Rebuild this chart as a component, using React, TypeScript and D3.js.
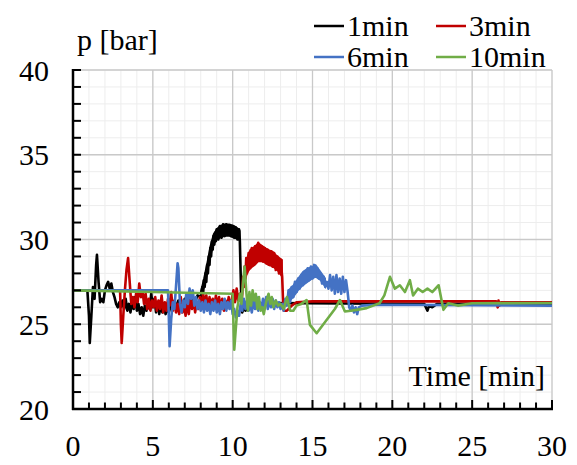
import React from "react";
import * as d3 from "d3";

// ---- data (time [min], pressure [bar]) ----
const xTicks = [0, 5, 10, 15, 20, 25, 30];
const yTicks = [20, 25, 30, 35, 40];
const legendLabels = ["1min", "3min", "6min", "10min"];

const series1min: [number, number][] = [
  [0, 27], [0.9, 27], [1.0, 25.5], [1.05, 23.9], [1.15, 25.5], [1.25, 27.2], [1.35, 26.5], [1.45, 28.5], [1.5, 29.1],
  [1.6, 27.5], [1.7, 26.3], [1.8, 26.5], [1.9, 26.3], [2.0, 27.0], [2.1, 27.3], [2.2, 27.5], [2.3, 27.1], [2.4, 27.4],
  [2.5, 26.9], [2.6, 26.6], [2.7, 26.2], [2.8, 26.0], [2.9, 26.3], [3.0, 26.0], [3.1, 26.4], [3.2, 25.9], [3.3, 26.5],
  [3.4, 25.8], [3.5, 26.2], [3.6, 25.7], [3.7, 26.3], [3.8, 25.9], [3.9, 26.6], [4.0, 25.8], [4.1, 26.2], [4.2, 25.6],
  [4.3, 26.0], [4.4, 25.5], [4.5, 26.1], [4.6, 25.8], [4.7, 26.4], [4.8, 25.9], [4.9, 26.8], [5.0, 26.0], [5.1, 26.5],
  [5.2, 25.7], [5.3, 26.3], [5.4, 25.6], [5.5, 26.1], [5.6, 25.7], [5.7, 26.0], [5.8, 25.6], [5.9, 25.9], [6.0, 25.7],
  [6.2, 26.3], [6.4, 25.9], [6.6, 26.4], [6.8, 26.0], [7.0, 26.5], [7.2, 26.1], [7.4, 26.6], [7.6, 26.2], [7.8, 26.7],
  [8.0, 26.6], [8.1, 27.2], [8.15, 26.8], [8.2, 27.6], [8.25, 27.2], [8.3, 28.0], [8.35, 27.5], [8.4, 28.5], [8.45, 28.0],
  [8.5, 29.0], [8.55, 28.5], [8.6, 29.5], [8.65, 29.0], [8.7, 29.9], [8.75, 29.4], [8.8, 30.2], [8.85, 29.7], [8.9, 30.4],
  [8.95, 29.9], [9.0, 30.6], [9.1, 30.0], [9.2, 30.8], [9.3, 30.1], [9.4, 30.9], [9.5, 30.2], [9.6, 30.9], [9.7, 30.3],
  [9.8, 30.8], [9.9, 30.2], [10.0, 30.8], [10.1, 30.1], [10.2, 30.7], [10.3, 30.0], [10.4, 30.6], [10.45, 29.9],
  [10.5, 28.0], [10.55, 26.2], [10.6, 25.7], [10.7, 26.0], [10.8, 25.8], [11.0, 26.1], [11.5, 26.2], [12.0, 26.25],
  [22.0, 26.2], [22.2, 25.8], [22.3, 26.1], [22.5, 26.0], [22.8, 26.2], [30, 26.2],
];
// oscillation envelope (time, low, high)
const band1min: [number, number, number][] = [
  [8.0, 26.6, 26.9], [8.2, 27.2, 27.7], [8.4, 28.0, 28.6], [8.6, 29.0, 29.6], [8.8, 29.7, 30.3], [9.0, 30.0, 30.6],
  [9.2, 30.1, 30.8], [9.5, 30.2, 30.9], [9.8, 30.2, 30.9], [10.1, 30.1, 30.8], [10.4, 30.0, 30.6], [10.45, 29.9, 30.5],
];

const series3min: [number, number][] = [
  [0, 27], [2.95, 27], [3.0, 25], [3.05, 23.9], [3.15, 25.5], [3.25, 27.0], [3.35, 28.2], [3.45, 28.9], [3.55, 27.5],
  [3.65, 26.2], [3.75, 26.6], [3.85, 26.0], [3.95, 26.8], [4.05, 26.3], [4.15, 27.4], [4.25, 26.6], [4.35, 27.0],
  [4.45, 26.2], [4.55, 26.8], [4.65, 25.9], [4.75, 26.5], [4.85, 25.8], [4.95, 26.4], [5.05, 26.0], [5.15, 26.6],
  [5.25, 25.8], [5.35, 26.4], [5.45, 25.9], [5.55, 26.7], [5.65, 25.7], [5.75, 26.3], [5.85, 25.8], [5.95, 26.5],
  [6.05, 26.1], [6.15, 26.9], [6.25, 25.8], [6.35, 26.4], [6.45, 25.7], [6.55, 26.2], [6.65, 25.6], [6.75, 26.6],
  [6.85, 25.7], [6.95, 26.1], [7.05, 25.5], [7.15, 26.3], [7.25, 25.6], [7.35, 26.5], [7.45, 25.9], [7.55, 26.4],
  [7.65, 25.7], [7.75, 26.3], [7.85, 25.9], [7.95, 26.6], [8.05, 26.0], [8.15, 26.8], [8.25, 26.2], [8.35, 26.7],
  [8.45, 26.0], [8.55, 26.6], [8.65, 26.1], [8.75, 26.5], [8.85, 26.0], [8.95, 26.7], [9.05, 26.1], [9.15, 26.6],
  [9.25, 25.9], [9.35, 26.5], [9.45, 25.8], [9.55, 26.4], [9.65, 26.0], [9.75, 26.6], [9.85, 26.1], [9.95, 26.5],
  [10.05, 27.0], [10.15, 26.3], [10.25, 27.1], [10.35, 26.4], [10.45, 26.8], [10.55, 26.3], [10.6, 26.8], [10.65, 27.8],
  [10.7, 27.2], [10.75, 28.4], [10.8, 27.7], [10.85, 28.9], [10.9, 28.0], [11.0, 29.2], [11.1, 28.3], [11.2, 29.5],
  [11.3, 28.5], [11.4, 29.6], [11.5, 28.7], [11.6, 29.8], [11.7, 28.8], [11.8, 29.6], [11.9, 28.7], [12.0, 29.5],
  [12.1, 28.6], [12.2, 29.4], [12.3, 28.5], [12.4, 29.3], [12.5, 28.4], [12.6, 29.2], [12.7, 28.2], [12.8, 29.0],
  [12.9, 28.0], [13.0, 28.8], [13.1, 27.8], [13.15, 26.5], [13.2, 25.8], [13.4, 25.8], [13.7, 26.1], [14.0, 26.3],
  [15, 26.35], [26.5, 26.35], [26.6, 26.0], [26.65, 26.4], [26.7, 26.1], [26.8, 26.3], [30, 26.3],
];
const band3min: [number, number, number][] = [
  [10.7, 27.2, 27.8], [10.9, 28.0, 28.9], [11.1, 28.3, 29.4], [11.4, 28.5, 29.6], [11.6, 28.7, 29.8], [11.9, 28.7, 29.6],
  [12.2, 28.5, 29.4], [12.5, 28.4, 29.3], [12.8, 28.2, 29.0], [13.1, 27.8, 28.8],
];

const series6min: [number, number][] = [
  [0, 27], [5.95, 27], [6.0, 25.5], [6.05, 23.7], [6.15, 25.3], [6.25, 26.3], [6.35, 25.9], [6.45, 27.2], [6.55, 28.6],
  [6.6, 28.3], [6.7, 26.2], [6.8, 25.7], [6.9, 26.4], [7.0, 26.0], [7.1, 26.8], [7.2, 26.2], [7.3, 27.1], [7.4, 26.5],
  [7.5, 27.0], [7.6, 26.1], [7.7, 26.6], [7.8, 25.9], [7.9, 26.4], [8.0, 25.8], [8.1, 26.3], [8.2, 25.7], [8.3, 26.4],
  [8.4, 25.8], [8.5, 26.2], [8.6, 25.6], [8.7, 26.3], [8.8, 25.8], [8.9, 26.4], [9.0, 25.7], [9.1, 26.2], [9.2, 25.6],
  [9.3, 26.3], [9.4, 25.9], [9.5, 26.5], [9.6, 25.8], [9.7, 26.3], [9.8, 25.9], [9.9, 26.4], [10.0, 25.6], [10.1, 25.9],
  [10.2, 25.4], [10.3, 25.8], [10.4, 25.5], [10.5, 26.2], [10.6, 25.8], [10.7, 26.5], [10.8, 25.9], [10.9, 26.4],
  [11.0, 25.8], [11.1, 26.2], [11.2, 25.7], [11.3, 26.4], [11.4, 25.9], [11.5, 26.6], [11.6, 25.8], [11.7, 26.3],
  [11.8, 25.9], [11.9, 26.5], [12.0, 26.0], [12.1, 26.6], [12.2, 25.9], [12.3, 26.4], [12.4, 26.0], [12.5, 26.5],
  [12.6, 25.9], [12.7, 26.4], [12.8, 26.0], [12.9, 26.3], [13.0, 25.9], [13.1, 26.2], [13.2, 25.8], [13.3, 26.5],
  [13.4, 26.1], [13.5, 27.0], [13.6, 26.3], [13.7, 27.2], [13.8, 26.6], [13.9, 27.5], [14.0, 26.9], [14.1, 27.7],
  [14.2, 27.1], [14.3, 27.9], [14.4, 27.3], [14.5, 28.1], [14.6, 27.5], [14.7, 28.3], [14.8, 27.6], [14.9, 28.4],
  [15.0, 27.7], [15.1, 28.5], [15.2, 27.8], [15.3, 28.3], [15.4, 27.7], [15.5, 28.0], [15.6, 27.4], [15.7, 27.8],
  [15.8, 27.2], [15.9, 27.5], [16.0, 27.1], [16.1, 27.9], [16.2, 27.0], [16.3, 27.8], [16.4, 26.8], [16.5, 27.9],
  [16.6, 26.9], [16.7, 27.7], [16.8, 26.8], [16.9, 27.8], [17.0, 26.9], [17.1, 27.6], [17.2, 26.9], [17.3, 26.0],
  [17.4, 25.8], [17.5, 26.1], [17.6, 25.7], [17.7, 26.0], [17.8, 25.6], [17.9, 26.0], [18.1, 26.1], [19, 26.15],
  [30, 26.1],
];
const band6min: [number, number, number][] = [
  [13.5, 26.3, 27.0], [13.8, 26.6, 27.3], [14.1, 27.0, 27.7], [14.4, 27.3, 28.1], [14.7, 27.5, 28.3], [15.0, 27.7, 28.4],
  [15.2, 27.8, 28.5], [15.5, 27.6, 28.1], [15.8, 27.2, 27.7],
];

const series10min: [number, number][] = [
  [0, 27.0], [5, 26.9], [10, 26.8], [10.05, 25.0], [10.1, 23.5], [10.2, 24.8], [10.3, 26.0], [10.45, 26.8], [10.55, 26.2],
  [10.65, 27.5], [10.75, 28.4], [10.85, 27.0], [10.95, 25.8], [11.05, 26.9], [11.15, 26.1], [11.25, 27.0], [11.35, 26.4],
  [11.45, 26.8], [11.55, 25.9], [11.65, 26.6], [11.75, 25.8], [11.85, 26.0], [11.95, 25.6], [12.05, 26.1], [12.15, 26.5],
  [12.25, 26.8], [12.35, 26.2], [12.45, 26.6], [12.55, 26.0], [12.7, 26.4], [12.85, 26.1], [13.0, 26.2], [13.2, 25.9],
  [13.4, 26.6], [13.6, 25.8], [13.8, 25.8], [14.0, 26.1], [14.3, 26.2], [14.63, 26.43], [14.84, 24.96], [15.26, 24.47],
  [15.6, 24.9], [16.0, 25.4], [16.4, 25.9], [16.72, 26.43], [17.03, 25.75], [17.4, 25.8], [17.76, 25.85], [18.39, 25.95],
  [18.8, 26.1], [19.2, 26.24], [19.5, 26.7], [19.85, 27.8], [20.16, 27.1], [20.47, 27.3], [20.79, 26.9], [21.1, 27.6],
  [21.3, 26.7], [21.6, 27.1], [21.9, 26.9], [22.2, 27.1], [22.5, 26.9], [22.9, 27.3], [23.2, 25.85], [23.5, 26.24],
  [24.1, 26.1], [25, 26.24], [30, 26.25],
];

const allSeries = [series1min, series3min, series6min, series10min];
const allBands = [band1min, band3min, band6min, [] as [number, number, number][]];
const colors = ["#000000", "#C00000", "#4472C4", "#70AD47"];

const W = 577;
const H = 465;
const FONT = "Liberation Serif";

export default function App() {
  const x = d3.scaleLinear().domain([0, 30]).range([73, 552]);
  const y = d3.scaleLinear().domain([20, 40]).range([409, 70]);
  const line = d3
    .line<[number, number]>()
    .x((d) => x(d[0]))
    .y((d) => y(d[1]));
  const area = d3
    .area<[number, number, number]>()
    .x((d) => x(d[0]))
    .y0((d) => y(d[1]))
    .y1((d) => y(d[2]));

  const minorX = d3.range(0, 31, 1);
  const minorY = d3.range(20, 41, 1);
  const txt = { fontFamily: FONT, fontSize: 30 } as React.CSSProperties;

  return (
    <svg
      width={W}
      height={H}
      style={{ position: "absolute", left: 0, top: 0, background: "#fff" }}
    >
      {/* minor grid */}
      {minorX.map((t) => (
        <line key={"mx" + t} x1={x(t)} x2={x(t)} y1={y(40)} y2={y(20)} stroke="#ededed" strokeWidth={1} />
      ))}
      {minorY.map((p) => (
        <line key={"my" + p} x1={x(0)} x2={x(30)} y1={y(p)} y2={y(p)} stroke="#ededed" strokeWidth={1} />
      ))}
      {/* major grid */}
      {xTicks.map((t) => (
        <line key={"gx" + t} x1={x(t)} x2={x(t)} y1={y(40)} y2={y(20)} stroke="#c9c9c9" strokeWidth={1.3} />
      ))}
      {yTicks.map((p) => (
        <line key={"gy" + p} x1={x(0)} x2={x(30)} y1={y(p)} y2={y(p)} stroke="#c9c9c9" strokeWidth={1.3} />
      ))}

      {/* series */}
      {allSeries.map((s, i) => (
        <g key={"s" + i}>
          {allBands[i].length > 0 && (
            <path d={area(allBands[i]) || ""} fill={colors[i]} stroke={colors[i]} strokeWidth={1.5} />
          )}
          <path
            d={line(s) || ""}
            fill="none"
            stroke={colors[i]}
            strokeWidth={2.6}
            strokeLinejoin="round"
          />
        </g>
      ))}

      {/* axes */}
      <line x1={x(0)} x2={x(0)} y1={y(40) - 1} y2={y(20) + 1} stroke="#000" strokeWidth={2.5} />
      <line x1={x(0) - 1} x2={x(30) + 1} y1={y(20)} y2={y(20)} stroke="#000" strokeWidth={2.5} />
      {minorY.map((p) => (
        <line key={"ty" + p} x1={x(0)} x2={x(0) + 8} y1={y(p)} y2={y(p)} stroke="#000" strokeWidth={2} />
      ))}
      {minorX.map((t) => (
        <line
          key={"tx" + t}
          x1={x(t)}
          x2={x(t)}
          y1={y(20)}
          y2={y(20) - (t % 5 === 0 ? 9 : 6.5)}
          stroke="#000"
          strokeWidth={2}
        />
      ))}

      {/* tick labels */}
      {yTicks.map((p) => (
        <text key={"ly" + p} x={49} y={y(p)} dy="0.35em" textAnchor="end" style={txt} fill="#000">
          {p}
        </text>
      ))}
      {xTicks.map((t) => (
        <text key={"lx" + t} x={x(t)} y={456} textAnchor="middle" style={txt} fill="#000">
          {t}
        </text>
      ))}

      {/* axis titles */}
      <text x={77} y={50} style={txt} fill="#000">p [bar]</text>
      <text x={545} y={386} textAnchor="end" style={txt} fill="#000">Time [min]</text>

      {/* legend */}
      {legendLabels.map((lab, i) => {
        const col = i % 2;
        const row = Math.floor(i / 2);
        const lx = col === 0 ? 314 : 436;
        const ly = row === 0 ? 26 : 57;
        return (
          <g key={"lg" + i}>
            <line x1={lx} x2={lx + 30} y1={ly} y2={ly} stroke={colors[i]} strokeWidth={2.5} />
            <text x={lx + 33} y={ly + 10} style={txt} fill="#000">
              {lab}
            </text>
          </g>
        );
      })}
    </svg>
  );
}
